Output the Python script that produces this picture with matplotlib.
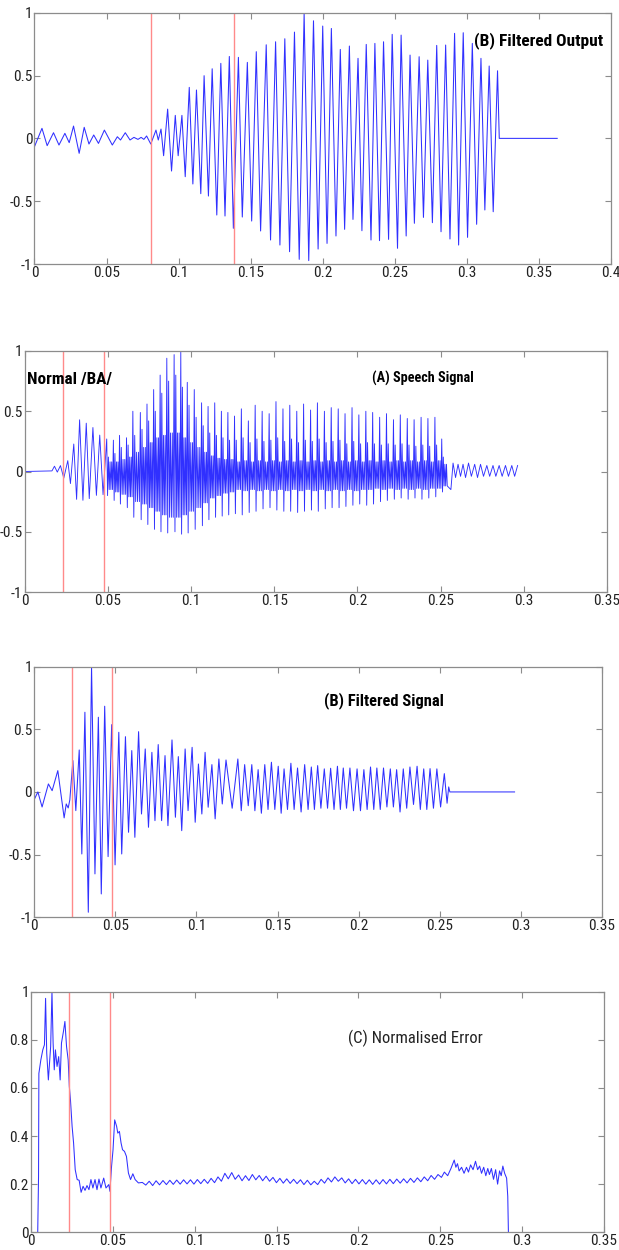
import os
import matplotlib
matplotlib.use("Agg")
import matplotlib.pyplot as plt
from matplotlib import font_manager
from matplotlib.font_manager import FontProperties

# ---- panel 1 : (B) Filtered Output  (extrema of the waveform)
p1_t = [0.0, 0.0052, 0.0088, 0.0132, 0.0170, 0.0211, 0.0241, 0.0271, 0.0310, 0.0345,
        0.0378, 0.0411, 0.0444, 0.0485, 0.0540, 0.0575, 0.0597, 0.0630, 0.0663, 0.0690,
        0.0718, 0.0740, 0.0759, 0.0778, 0.0807, 0.0843, 0.0859, 0.0878, 0.0896, 0.0924,
        0.0951, 0.0977, 0.0997, 0.1023, 0.1046, 0.1074, 0.1099, 0.1124, 0.1154, 0.1177,
        0.1207, 0.1233, 0.1265, 0.1293, 0.1322, 0.1352, 0.1380, 0.1415, 0.1442, 0.1477,
        0.1507, 0.1539, 0.1569, 0.1608, 0.1638, 0.1673, 0.1703, 0.1737, 0.1770, 0.1804,
        0.1837, 0.1871, 0.1903, 0.1936, 0.1968, 0.2000, 0.2030, 0.2060, 0.2092, 0.2122,
        0.2152, 0.2185, 0.2210, 0.2245, 0.2272, 0.2302, 0.2335, 0.2362, 0.2394, 0.2422,
        0.2457, 0.2482, 0.2519, 0.2544, 0.2579, 0.2606, 0.2636, 0.2669, 0.2699, 0.2729,
        0.2761, 0.2791, 0.2821, 0.2853, 0.2883, 0.2915, 0.2943, 0.2975, 0.3005, 0.3038,
        0.3068, 0.3098, 0.3125, 0.3155, 0.3183, 0.3213, 0.3225, 0.3627]
p1_v = [-0.066, 0.080, -0.058, 0.045, -0.053, 0.040, -0.034, 0.098, -0.119, 0.088,
        -0.045, 0.027, -0.040, 0.066, -0.053, 0.013, -0.013, 0.045, -0.013, 0.008,
        -0.008, 0.008, -0.008, 0.019, -0.045, 0.066, -0.013, 0.074, -0.138, 0.233,
        -0.260, 0.183, -0.138, 0.183, -0.305, 0.406, -0.363, 0.385, -0.440, 0.499,
        -0.459, 0.554, -0.610, 0.597, -0.618, 0.652, -0.716, 0.645, -0.626, 0.605,
        -0.658, 0.690, -0.737, 0.745, -0.809, 0.769, -0.849, 0.793, -0.902, 0.846,
        -0.963, 0.995, -0.973, 0.936, -0.881, 0.894, -0.836, 0.875, -0.777, 0.708,
        -0.724, 0.735, -0.645, 0.637, -0.735, 0.748, -0.809, 0.756, -0.814, 0.769,
        -0.804, 0.828, -0.875, 0.822, -0.777, 0.663, -0.676, 0.650, -0.629, 0.623,
        -0.671, 0.740, -0.743, 0.743, -0.801, 0.836, -0.849, 0.841, -0.788, 0.756,
        -0.684, 0.637, -0.570, 0.576, -0.584, 0.538, 0.0, 0.0]
p1_marks = [0.0807, 0.1381]

# ---- panel 2 : (A) Speech Signal
p2_onset_t = [0.0, 0.0165, 0.0180, 0.0197, 0.0216, 0.0236, 0.0260, 0.0276, 0.0296,
              0.0313, 0.0331, 0.0351, 0.0371, 0.0389, 0.0411, 0.0432, 0.0452, 0.0472]
p2_onset_v = [0.0, 0.005, 0.044, -0.005, 0.049, -0.055, 0.090, -0.100, 0.228,
              -0.231, 0.429, -0.239, 0.401, -0.225, 0.365, -0.198, 0.302, -0.192]
# pitch pulses: start time, spike top, spike bottom, second peak, inner band hi / lo
p2_pulse_t = [0.0494, 0.0534, 0.0571, 0.0613, 0.0651, 0.0696, 0.0736, 0.0776, 0.0815,
              0.0855, 0.0899, 0.0939, 0.0978, 0.1020, 0.1064, 0.1103, 0.1143, 0.1183,
              0.1222, 0.1262, 0.1303, 0.1345, 0.1386, 0.1428, 0.1470, 0.1511, 0.1553,
              0.1594, 0.1636, 0.1677, 0.1719, 0.1760, 0.1802, 0.1843, 0.1885, 0.1926,
              0.1968, 0.2009, 0.2051, 0.2092, 0.2134, 0.2175, 0.2217, 0.2258, 0.2300,
              0.2341, 0.2383, 0.2424, 0.2466, 0.2507, 0.2545]
p2_peak = [0.27, 0.26, 0.30, 0.28, 0.50, 0.49, 0.56, 0.68, 0.80, 0.94, 0.97, 0.99, 0.74,
           0.68, 0.57, 0.54, 0.57, 0.50, 0.49, 0.46, 0.52, 0.42, 0.55, 0.50, 0.48, 0.58,
           0.52, 0.55, 0.50, 0.56, 0.51, 0.57, 0.50, 0.53, 0.52, 0.48, 0.53, 0.47, 0.50,
           0.49, 0.45, 0.48, 0.43, 0.47, 0.44, 0.43, 0.45, 0.44, 0.45, 0.27]
p2_trough = [-0.20, -0.24, -0.27, -0.30, -0.38, -0.40, -0.44, -0.48, -0.50, -0.51, -0.50,
             -0.52, -0.51, -0.48, -0.45, -0.40, -0.38, -0.37, -0.36, -0.35, -0.36, -0.34,
             -0.33, -0.31, -0.30, -0.32, -0.33, -0.33, -0.34, -0.33, -0.32, -0.33, -0.31,
             -0.30, -0.30, -0.29, -0.28, -0.27, -0.28, -0.27, -0.25, -0.24, -0.23, -0.22,
             -0.23, -0.22, -0.23, -0.22, -0.21, -0.17]
p2_mid = [0.12, 0.15, 0.20, 0.22, 0.30, 0.35, 0.42, 0.50, 0.65, 0.75, 0.80, 0.70, 0.55,
          0.45, 0.38, 0.32, 0.30, 0.28, 0.26, 0.26, 0.28, 0.24, 0.27, 0.25, 0.26, 0.28,
          0.25, 0.27, 0.24, 0.26, 0.25, 0.27, 0.24, 0.25, 0.26, 0.23, 0.25, 0.23, 0.24,
          0.23, 0.22, 0.23, 0.22, 0.23, 0.22, 0.21, 0.22, 0.21, 0.22, 0.12]
p2_hi = [0.08, 0.08, 0.10, 0.12, 0.16, 0.20, 0.24, 0.28, 0.30, 0.32, 0.32, 0.28, 0.24,
         0.20, 0.16, 0.13, 0.11, 0.10, 0.10, 0.08, 0.09, 0.08, 0.09, 0.08, 0.09, 0.08,
         0.09, 0.08, 0.09, 0.08, 0.09, 0.08, 0.09, 0.08, 0.09, 0.08, 0.09, 0.08, 0.09,
         0.08, 0.09, 0.08, 0.09, 0.08, 0.09, 0.08, 0.09, 0.08, 0.09, 0.06]
p2_lo = [-0.15, -0.17, -0.19, -0.21, -0.25, -0.27, -0.30, -0.33, -0.36, -0.38, -0.38,
         -0.36, -0.33, -0.30, -0.26, -0.22, -0.20, -0.18, -0.17, -0.15, -0.16, -0.15,
         -0.16, -0.15, -0.16, -0.15, -0.16, -0.15, -0.16, -0.15, -0.16, -0.15, -0.16,
         -0.15, -0.16, -0.15, -0.16, -0.15, -0.15, -0.14, -0.15, -0.14, -0.15, -0.14,
         -0.15, -0.14, -0.15, -0.14, -0.14, -0.12]
p2_tail_t = [0.2562, 0.2575, 0.2590, 0.2605, 0.2620, 0.2635, 0.2650, 0.2668, 0.2685,
             0.2705, 0.2722, 0.2740, 0.2758, 0.2778, 0.2795, 0.2815, 0.2832, 0.2852,
             0.2870, 0.2890, 0.2908, 0.2928, 0.2945, 0.2963]
p2_tail_v = [-0.15, 0.07, -0.05, 0.06, -0.04, 0.06, -0.05, 0.07, -0.04, 0.06, -0.05,
             0.06, -0.04, 0.05, -0.04, 0.05, -0.04, 0.05, -0.04, 0.05, -0.04, 0.05,
             -0.04, 0.05]
p2_marks = [0.0232, 0.0480]

# ---- panel 3 : (B) Filtered Signal
p3_t = [0.0, 0.0022, 0.0048, 0.0087, 0.0110, 0.0145, 0.0184, 0.0197, 0.0209, 0.0219,
        0.0238, 0.0256, 0.0277, 0.0293, 0.0312, 0.0333, 0.0353, 0.0374, 0.0395, 0.0413,
        0.0434, 0.0455, 0.0477, 0.0498, 0.0521, 0.0539, 0.0562, 0.0581, 0.0601, 0.0620,
        0.0643, 0.0661, 0.0684, 0.0704, 0.0725, 0.0744, 0.0764, 0.0785, 0.0806, 0.0824,
        0.0849, 0.0870, 0.0888, 0.0909, 0.0930, 0.0948, 0.0973, 0.0992, 0.1012, 0.1033,
        0.1053, 0.1072, 0.1095, 0.1115, 0.1138, 0.1159, 0.1182, 0.1220, 0.1255, 0.1276,
        0.1297, 0.1319, 0.1341, 0.1360, 0.1380, 0.1400, 0.1421, 0.1441, 0.1462, 0.1483,
        0.1504, 0.1522, 0.1540, 0.1561, 0.1582, 0.1602, 0.1623, 0.1645, 0.1667, 0.1688,
        0.1708, 0.1727, 0.1747, 0.1767, 0.1788, 0.1808, 0.1827, 0.1848, 0.1869, 0.1887,
        0.1905, 0.1925, 0.1946, 0.1968, 0.1990, 0.2011, 0.2032, 0.2052, 0.2073, 0.2093,
        0.2112, 0.2133, 0.2153, 0.2174, 0.2195, 0.2214, 0.2234, 0.2255, 0.2275, 0.2296,
        0.2316, 0.2338, 0.2360, 0.2380, 0.2401, 0.2420, 0.2440, 0.2461, 0.2482, 0.2505,
        0.2528, 0.2545, 0.2555, 0.2562, 0.2961]
p3_v = [-0.06, 0.0, -0.12, 0.064, 0.01, 0.170, -0.207, -0.096, -0.128, -0.064,
        0.25, -0.149, 0.335, -0.495, 0.636, -0.960, 1.0, -0.654, 0.596, -0.814,
        0.684, -0.516, 0.537, -0.582, 0.476, -0.495, 0.441, -0.322, 0.330, -0.362,
        0.481, -0.176, 0.343, -0.282, 0.316, -0.229, 0.378, -0.229, 0.290, -0.269,
        0.415, -0.202, 0.282, -0.309, 0.343, -0.149, 0.356, -0.242, 0.223, -0.176,
        0.316, -0.122, 0.218, -0.215, 0.263, -0.096, 0.255, -0.13, 0.263, -0.15,
        0.218, -0.11, 0.218, -0.15, 0.178, -0.17, 0.218, -0.14, 0.237, -0.14,
        0.205, -0.17, 0.184, -0.14, 0.229, -0.14, 0.191, -0.16, 0.218, -0.14,
        0.199, -0.14, 0.210, -0.13, 0.184, -0.13, 0.189, -0.14, 0.205, -0.14,
        0.191, -0.13, 0.191, -0.15, 0.184, -0.15, 0.178, -0.14, 0.199, -0.14,
        0.191, -0.14, 0.191, -0.12, 0.184, -0.12, 0.178, -0.16, 0.184, -0.13,
        0.199, -0.10, 0.205, -0.14, 0.184, -0.14, 0.186, -0.13, 0.184, -0.12,
        0.146, -0.09, 0.04, 0.0, 0.0]
p3_marks = [0.0230, 0.0477]

# ---- panel 4 : (C) Normalised Error
p4_t = [0.0041, 0.0046, 0.0048, 0.0060, 0.0072, 0.0082, 0.0089, 0.0096, 0.0106, 0.0113,
        0.0120, 0.0128, 0.0135, 0.0142, 0.0149, 0.0159, 0.0169, 0.0178, 0.0186, 0.0198,
        0.0207, 0.0217, 0.0227, 0.0234, 0.0241, 0.0251, 0.0260, 0.0270, 0.0282, 0.0294,
        0.0306, 0.0318, 0.0330, 0.0342, 0.0354, 0.0366, 0.0378, 0.0391, 0.0403, 0.0415,
        0.0427, 0.0444, 0.0458, 0.0475, 0.0482, 0.0492, 0.0501, 0.0511, 0.0523, 0.0530,
        0.0540, 0.0550, 0.0559, 0.0571, 0.0583, 0.0595, 0.0608, 0.0622, 0.0636, 0.0656,
        0.0680, 0.0701, 0.0722, 0.0743, 0.0764, 0.0785, 0.0806, 0.0827, 0.0848, 0.0869,
        0.0890, 0.0911, 0.0932, 0.0953, 0.0974, 0.0995, 0.1016, 0.1037, 0.1058, 0.1079,
        0.1100, 0.1121, 0.1142, 0.1163, 0.1184, 0.1205, 0.1226, 0.1247, 0.1268, 0.1289,
        0.1310, 0.1331, 0.1352, 0.1373, 0.1394, 0.1415, 0.1436, 0.1457, 0.1478, 0.1499,
        0.1520, 0.1541, 0.1562, 0.1583, 0.1604, 0.1625, 0.1646, 0.1667, 0.1688, 0.1709,
        0.1730, 0.1751, 0.1772, 0.1793, 0.1814, 0.1835, 0.1856, 0.1877, 0.1898, 0.1919,
        0.1940, 0.1961, 0.1982, 0.2003, 0.2024, 0.2045, 0.2066, 0.2087, 0.2108, 0.2129,
        0.2150, 0.2171, 0.2192, 0.2213, 0.2234, 0.2255, 0.2276, 0.2297, 0.2318, 0.2339,
        0.2360, 0.2381, 0.2402, 0.2423, 0.2444, 0.2465, 0.2486, 0.2507, 0.2525, 0.2545,
        0.2565, 0.2585, 0.2595, 0.2605, 0.2615, 0.2630, 0.2645, 0.2660, 0.2672, 0.2685,
        0.2700, 0.2715, 0.2728, 0.2740, 0.2752, 0.2765, 0.2778, 0.2790, 0.2800, 0.2812,
        0.2825, 0.2838, 0.2850, 0.2862, 0.2872, 0.2882, 0.2893, 0.2905, 0.2912, 0.2916]
p4_v = [0.0, 0.232, 0.660, 0.716, 0.758, 0.779, 0.972, 0.744, 0.633, 0.703,
        0.772, 1.0, 0.786, 0.675, 0.758, 0.689, 0.730, 0.633, 0.786, 0.834,
        0.876, 0.772, 0.716, 0.606, 0.550, 0.440, 0.371, 0.260, 0.219, 0.216,
        0.166, 0.191, 0.174, 0.194, 0.177, 0.219, 0.184, 0.219, 0.177, 0.221,
        0.184, 0.225, 0.184, 0.198, 0.170, 0.274, 0.343, 0.467, 0.440, 0.412,
        0.419, 0.371, 0.343, 0.336, 0.315, 0.246, 0.219, 0.243, 0.219, 0.205,
        0.207, 0.196, 0.212, 0.194, 0.214, 0.197, 0.215, 0.198, 0.216, 0.199,
        0.217, 0.200, 0.218, 0.201, 0.218, 0.200, 0.219, 0.202, 0.220, 0.203,
        0.224, 0.206, 0.230, 0.212, 0.245, 0.222, 0.248, 0.220, 0.238, 0.214,
        0.235, 0.215, 0.240, 0.218, 0.236, 0.214, 0.233, 0.212, 0.228, 0.206,
        0.224, 0.204, 0.222, 0.203, 0.220, 0.202, 0.218, 0.198, 0.216, 0.197,
        0.212, 0.198, 0.220, 0.204, 0.226, 0.209, 0.230, 0.212, 0.226, 0.205,
        0.222, 0.202, 0.220, 0.201, 0.219, 0.200, 0.218, 0.199, 0.218, 0.200,
        0.219, 0.201, 0.220, 0.202, 0.221, 0.204, 0.222, 0.205, 0.224, 0.207,
        0.226, 0.210, 0.230, 0.214, 0.236, 0.220, 0.240, 0.228, 0.250, 0.235,
        0.265, 0.300, 0.270, 0.285, 0.255, 0.270, 0.245, 0.270, 0.250, 0.280,
        0.260, 0.295, 0.260, 0.275, 0.245, 0.270, 0.235, 0.265, 0.240, 0.265,
        0.220, 0.260, 0.200, 0.255, 0.235, 0.275, 0.245, 0.225, 0.150, 0.0]
p4_marks = [0.0230, 0.0480]

x_ticks_a = [0, 0.05, 0.1, 0.15, 0.2, 0.25, 0.3, 0.35, 0.4]
x_labels_a = ["0", "0.05", "0.1", "0.15", "0.2", "0.25", "0.3", "0.35", "0.4"]
x_ticks_b = x_ticks_a[:-1]
x_labels_b = x_labels_a[:-1]
y_ticks_sig = [-1, -0.5, 0, 0.5, 1]
y_labels_sig = ["-1", "-0.5", "0", "0.5", "1"]
y_ticks_err = [0, 0.2, 0.4, 0.6, 0.8, 1]
y_labels_err = ["0", "0.2", "0.4", "0.6", "0.8", "1"]


def narrow_font(bold):
    # look for a condensed sans face among installed files
    if bold:
        wanted = ["LiberationSansNarrow-Bold.", "NotoSans-CondensedBold.",
                  "RobotoCondensed-Bold.", "OpenSans-CondensedBold.",
                  "NotoSans-SemiCondensedBold.", "DejaVuSansCondensed-Bold."]
    else:
        wanted = ["LiberationSansNarrow-Regular.", "NotoSans-Condensed.",
                  "RobotoCondensed-Regular.", "OpenSans-CondensedRegular.",
                  "NotoSans-SemiCondensed.", "DejaVuSansCondensed."]
    files = [f.fname for f in font_manager.fontManager.ttflist]
    for w in wanted:
        for fn in files:
            if os.path.basename(fn).startswith(w):
                return fn
    return None


REG_FILE = narrow_font(False)
BOLD_FILE = narrow_font(True)


def fp(size, bold=False):
    fn = BOLD_FILE if bold else REG_FILE
    if fn:
        # DejaVu condensed still runs wide, so take it a little smaller
        return FontProperties(fname=fn, size=size * (0.85 if "DejaVu" in fn else 1.0))
    return FontProperties(family="Liberation Sans", size=size * 0.8,
                          weight="bold" if bold else "normal")


LINE = "#3030ff"
MARK = "#ff8a8a"
EDGE = "#8c8c8c"
TICK_FP = fp(11)


def speech_points(pulse_t, peak, trough, mid, hi, lo):
    # one pitch period: spike, drop, second peak, then the ringing band
    ts, vs = [], []
    for i in range(len(peak)):
        t0 = pulse_t[i]
        dt = pulse_t[i + 1] - t0
        seq = [peak[i], trough[i], mid[i], lo[i], hi[i], lo[i], hi[i], lo[i]]
        for k, v in enumerate(seq):
            ts.append(t0 + dt * k / len(seq))
            vs.append(v)
    return ts, vs


def style(ax, xmax, xt, xl, yt, yl, ylim):
    ax.set_xlim(0, xmax)
    ax.set_ylim(*ylim)
    ax.set_xticks(xt)
    ax.set_xticklabels(xl, fontproperties=TICK_FP)
    ax.set_yticks(yt)
    ax.set_yticklabels(yl, fontproperties=TICK_FP)
    ax.tick_params(direction="in", top=True, right=True, length=4, width=0.8,
                   color=EDGE, labelcolor="#222222", pad=1.5)
    for s in ax.spines.values():
        s.set_color(EDGE)
        s.set_linewidth(0.9)


fig = plt.figure(figsize=(6.19, 12.5), dpi=100)

ax1 = fig.add_axes([0.0557, 0.7888, 0.9313, 0.2010])
ax1.plot(p1_t, p1_v, color=LINE, lw=0.75)
for m in p1_marks:
    ax1.axvline(m, color=MARK, lw=1.0)
style(ax1, 0.4, x_ticks_a, x_labels_a, y_ticks_sig, y_labels_sig, (-1, 1))
ax1.text(0.3495, 0.775, "(B) Filtered Output", fontproperties=fp(12.5, True),
         va="center", ha="center")

ax2 = fig.add_axes([0.0396, 0.5264, 0.9410, 0.1928])
st, sv = speech_points(p2_pulse_t, p2_peak, p2_trough, p2_mid, p2_hi, p2_lo)
ax2.plot(p2_onset_t + st + p2_tail_t, p2_onset_v + sv + p2_tail_v, color=LINE, lw=0.65)
for m in p2_marks:
    ax2.axvline(m, color=MARK, lw=1.0)
style(ax2, 0.35, x_ticks_b, x_labels_b, y_ticks_sig, y_labels_sig, (-1, 1))
ax2.text(0.0271, 0.76, "Normal /BA/", fontproperties=fp(12.3, True),
         va="center", ha="center")
ax2.text(0.2393, 0.776, "(A) Speech Signal", fontproperties=fp(10.3, True),
         va="center", ha="center")

ax3 = fig.add_axes([0.0554, 0.2662, 0.9171, 0.2005])
ax3.plot(p3_t, p3_v, color=LINE, lw=0.75)
for m in p3_marks:
    ax3.axvline(m, color=MARK, lw=1.0)
style(ax3, 0.35, x_ticks_b, x_labels_b, y_ticks_sig, y_labels_sig, (-1, 1))
ax3.text(0.2157, 0.731, "(B) Filtered Signal", fontproperties=fp(11.9, True),
         va="center", ha="center")

ax4 = fig.add_axes([0.0501, 0.0142, 0.9257, 0.1925])
ax4.plot(p4_t, p4_v, color=LINE, lw=0.75)
for m in p4_marks:
    ax4.axvline(m, color=MARK, lw=1.0)
style(ax4, 0.35, x_ticks_b, x_labels_b, y_ticks_err, y_labels_err, (0, 1))
ax4.text(0.2346, 0.806, "(C) Normalised Error", fontproperties=fp(12),
         va="center", ha="center", color="#222222")

fig.savefig("out.png", dpi=100)
